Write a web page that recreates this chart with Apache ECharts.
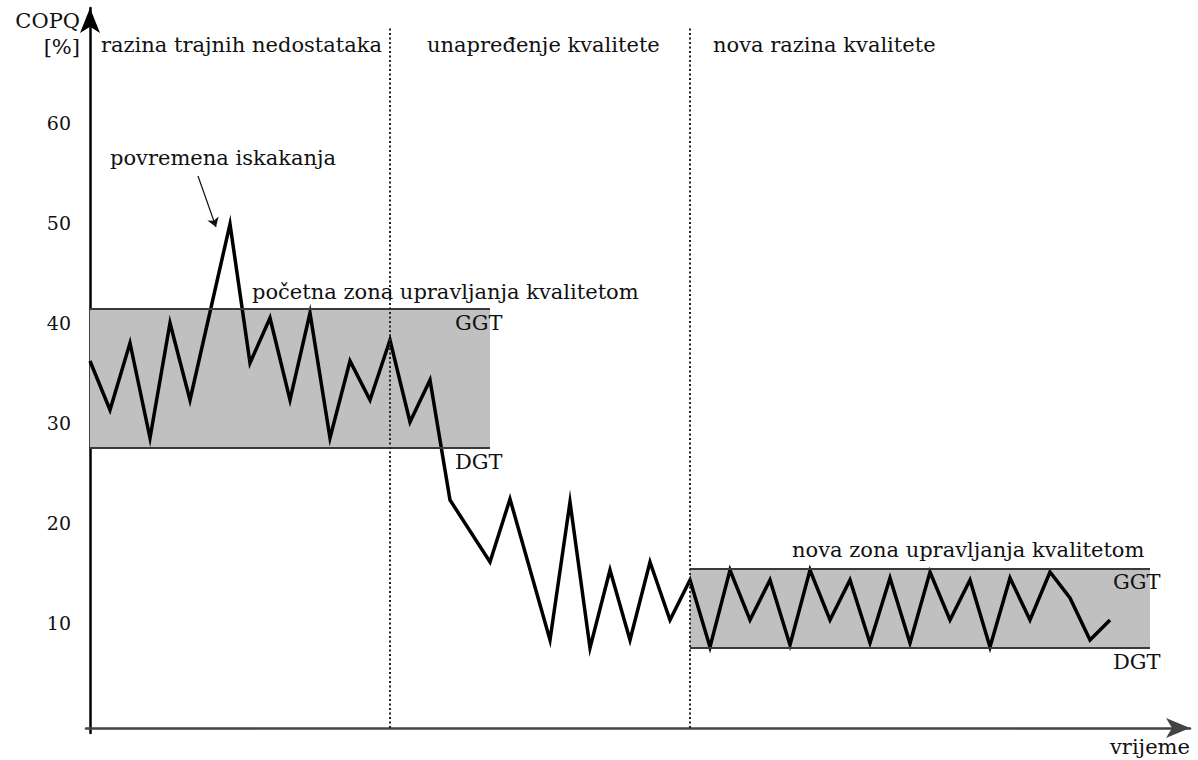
<!DOCTYPE html>
<html>
<head>
<meta charset="utf-8">
<title>COPQ - zone upravljanja kvalitetom</title>
<script src="https://cdn.jsdelivr.net/npm/echarts@6/dist/echarts.min.js"></script>
<style>
  html, body { margin: 0; padding: 0; background: #fff; }
  #chart { width: 1198px; height: 760px; }
</style>
</head>
<body>
<div id="chart"></div>
<script>
// vrijeme (redni korak mjerenja) i COPQ [%]
const steps = [0, 1, 2, 3, 4, 5, 7, 8, 9, 10, 11, 12, 13, 14, 15, 16, 17, 18,
  20, 21, 23, 24, 25, 26, 27, 28, 29, 30, 31, 32, 33, 34, 35, 36, 37, 38, 39,
  40, 41, 42, 43, 44, 45, 46, 47, 48, 49, 50, 51]
const copq = [36.2, 31.3, 38.0, 28.5, 40.0, 32.3, 49.9, 36.0, 40.5, 32.3, 41.0, 28.5, 36.2, 32.3, 38.3, 30.1, 34.3, 22.3,
  16.1, 22.4, 8.3, 22.1, 7.5, 15.3, 8.3, 16.1, 10.3, 14.3, 7.6, 15.3, 10.3, 14.3, 7.8, 15.3, 10.3, 14.3, 8.0,
  14.5, 8.0, 15.1, 10.3, 14.3, 7.6, 14.5, 10.3, 15.1, 12.5, 8.3, 10.3]

// oznake na osi y
const yTicks = [10, 20, 30, 40, 50, 60]

// zone upravljanja kvalitetom (pocetna i nova)
const zoneFrom = [0, 30]
const zoneTo = [20, 53]
const zoneGGT = [41.4, 15.4]
const zoneDGT = [27.5, 7.5]

// granice faza
const phaseBorders = [15, 30]
const phaseNames = ['razina trajnih nedostataka', 'unapređenje kvalitete', 'nova razina kvalitete']

const serif = '"DejaVu Serif", "Liberation Serif", serif'
const fs = 21

const chart = echarts.init(document.getElementById('chart'), null, { renderer: 'svg' })

const zoneAreas = zoneFrom.map((f, i) => [
  { coord: [f, zoneGGT[i]] },
  { coord: [zoneTo[i], zoneDGT[i]] }
])
const zoneEdges = []
zoneFrom.forEach((f, i) => {
  zoneEdges.push([{ coord: [f, zoneGGT[i]] }, { coord: [zoneTo[i], zoneGGT[i]] }])
  zoneEdges.push([{ coord: [f, zoneDGT[i]] }, { coord: [zoneTo[i], zoneDGT[i]] }])
})
const phaseLines = phaseBorders.map(b => [{ coord: [b, -0.5] }, { coord: [b, 69.5] }])

const txt = (x, y, text, align) => ({
  type: 'text',
  x: x,
  y: y,
  z: 100,
  style: {
    text: text,
    fill: '#111',
    font: fs + 'px ' + serif,
    textAlign: align || 'left',
    textVerticalAlign: 'middle'
  }
})

const option = {
  animation: false,
  grid: { left: 86, right: 8, top: 8, bottom: 27 },
  xAxis: {
    type: 'value',
    min: -0.2,
    max: 55,
    offset: -5,
    splitLine: { show: false },
    axisTick: { show: false },
    axisLabel: { show: false },
    axisLine: {
      onZero: false,
      symbol: ['none', 'arrow'],
      symbolSize: [15, 24],
      lineStyle: { color: '#444', width: 2.5 }
    }
  },
  yAxis: {
    type: 'value',
    min: -1,
    max: 71.5,
    splitNumber: 7,
    splitLine: { show: false },
    axisTick: { show: false },
    axisLabel: {
      margin: 15,
      fontFamily: serif,
      fontSize: 19,
      color: '#111',
      formatter: v => (yTicks.indexOf(v) >= 0 ? String(v) : '')
    },
    axisLine: {
      onZero: true,
      symbol: ['none', 'arrow'],
      symbolSize: [15, 25],
      lineStyle: { color: '#000', width: 2.5 }
    }
  },
  series: [
    {
      type: 'line',
      data: [],
      z: 1,
      silent: true,
      markArea: {
        silent: true,
        itemStyle: { color: '#c0c0c0' },
        data: zoneAreas
      },
      markLine: {
        silent: true,
        symbol: 'none',
        label: { show: false },
        lineStyle: { color: '#3a3a3a', width: 2, type: 'solid' },
        data: zoneEdges
      }
    },
    {
      type: 'line',
      data: [],
      z: 2,
      silent: true,
      markLine: {
        silent: true,
        symbol: 'none',
        label: { show: false },
        lineStyle: { color: '#222', width: 2, type: [2, 2.5] },
        data: phaseLines
      }
    },
    {
      type: 'line',
      z: 3,
      data: steps.map((s, i) => [s, copq[i]]),
      showSymbol: false,
      lineStyle: { color: '#000', width: 3.5, join: 'miter', miterLimit: 20 },
      markLine: {
        silent: true,
        symbol: ['none', 'arrow'],
        symbolSize: 9,
        label: { show: false },
        lineStyle: { color: '#111', width: 1.2, type: 'solid' },
        data: [[{ coord: [5.4, 54.7] }, { coord: [6.3, 49.6] }]]
      }
    }
  ],
  graphic: [
    txt(80, 21, 'COPQ', 'right'),
    txt(80, 47, '[%]', 'right'),
    txt(101, 45, phaseNames[0]),
    txt(427, 45, phaseNames[1]),
    txt(713, 45, phaseNames[2]),
    txt(110, 158, 'povremena iskakanja'),
    txt(252, 292, 'početna zona upravljanja kvalitetom'),
    txt(455, 323, 'GGT'),
    txt(455, 462, 'DGT'),
    txt(792, 550, 'nova zona upravljanja kvalitetom'),
    txt(1113, 582, 'GGT'),
    txt(1113, 662, 'DGT'),
    txt(1110, 747, 'vrijeme')
  ]
}

chart.setOption(option)
</script>
</body>
</html>
